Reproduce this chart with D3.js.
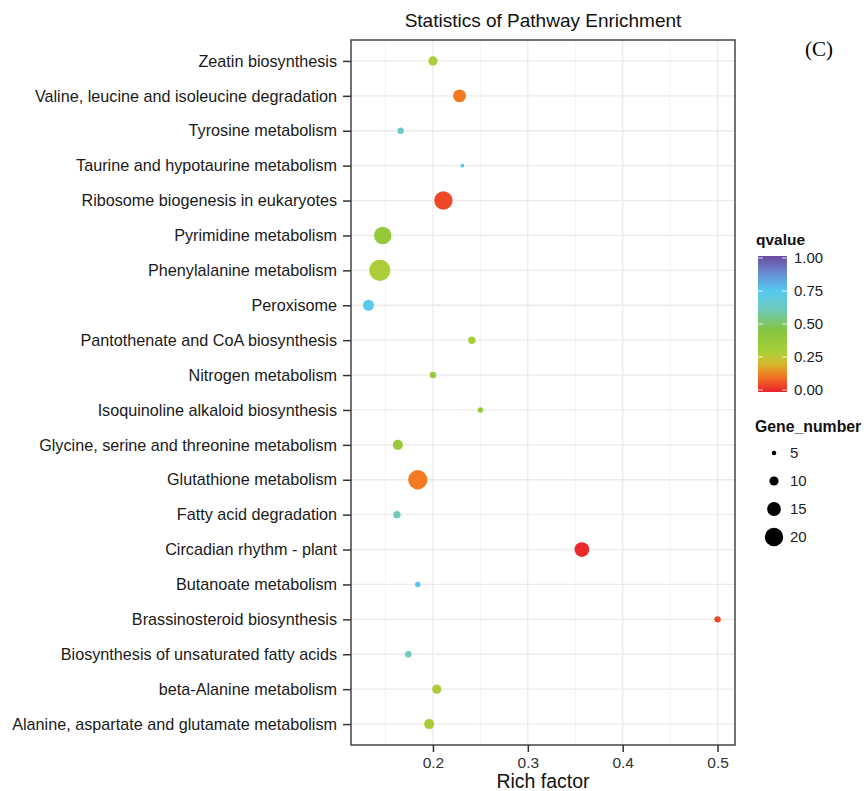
<!DOCTYPE html>
<html lang="en">
<head>
  <meta charset="UTF-8">
  <title>Statistics of Pathway Enrichment</title>
  <style>
    body { margin: 0; background: #fff; }
    svg text { font-family: 'Liberation Sans', Arial, sans-serif; }
  </style>
</head>
<body>
<div id="chart"></div>
<script src="https://cdn.jsdelivr.net/npm/d3@7"></script>
<script>
// 通路名称（从上到下）
let pathways = [
  'Zeatin biosynthesis',
  'Valine, leucine and isoleucine degradation',
  'Tyrosine metabolism',
  'Taurine and hypotaurine metabolism',
  'Ribosome biogenesis in eukaryotes',
  'Pyrimidine metabolism',
  'Phenylalanine metabolism',
  'Peroxisome',
  'Pantothenate and CoA biosynthesis',
  'Nitrogen metabolism',
  'Isoquinoline alkaloid biosynthesis',
  'Glycine, serine and threonine metabolism',
  'Glutathione metabolism',
  'Fatty acid degradation',
  'Circadian rhythm - plant',
  'Butanoate metabolism',
  'Brassinosteroid biosynthesis',
  'Biosynthesis of unsaturated fatty acids',
  'beta-Alanine metabolism',
  'Alanine, aspartate and glutamate metabolism'
]
let richFactor = [0.200, 0.228, 0.166, 0.231, 0.211, 0.147, 0.144, 0.132, 0.241, 0.200,
                  0.250, 0.163, 0.184, 0.162, 0.357, 0.184, 0.500, 0.174, 0.204, 0.196]
let qvalue = [0.29, 0.12, 0.62, 0.74, 0.05, 0.38, 0.29, 0.73, 0.29, 0.37,
              0.37, 0.37, 0.12, 0.61, 0.01, 0.74, 0.05, 0.61, 0.29, 0.29]
let geneNumber = [10, 14, 7, 4, 20, 19, 23, 12, 8, 7,
                  6, 11, 21, 8, 16, 6, 7, 7, 10, 11]
let xTicks = [0.2, 0.3, 0.4, 0.5]
let qTicks = [0, 0.25, 0.5, 0.75, 1]
let sizeTicks = [5, 10, 15, 20]

let width = 867
let height = 791
let margin = { left: 351, right: 735, top: 40, bottom: 745 }

let svg = d3.select('#chart').append('svg').attr('width', width).attr('height', height)

// x 比例尺，两端各扩展 5%
let ext = d3.extent(richFactor)
let pad = (ext[1] - ext[0]) * 0.05
let x = d3.scaleLinear().domain([ext[0] - pad, ext[1] + pad]).range([margin.left, margin.right])
let y = d3.scalePoint().domain(pathways).range([margin.top, margin.bottom]).padding(0.6)
let r = d3.scaleLinear().domain([5, 20]).range([2.3, 9.2])
let colorStops = [
  [0, '#e9212b'], [0.12, '#f27b22'], [0.22, '#cfc22f'], [0.3, '#a7cf38'],
  [0.45, '#86c440'], [0.62, '#6ccbc6'], [0.75, '#56c7f0'], [0.88, '#6b88cf'], [1, '#6a4a9f']
]
let color = d3.scaleLinear().domain(colorStops.map(d => d[0])).range(colorStops.map(d => d[1]))

// 网格线
let minor = d3.range(0.15, x.domain()[1], 0.1).filter(v => v > x.domain()[0])
svg.append('g').selectAll('line').data(minor).join('line')
  .attr('x1', d => x(d)).attr('x2', d => x(d))
  .attr('y1', margin.top).attr('y2', margin.bottom)
  .attr('stroke', '#f3f3f3').attr('stroke-width', 1)
svg.append('g').selectAll('line').data(xTicks).join('line')
  .attr('x1', d => x(d)).attr('x2', d => x(d))
  .attr('y1', margin.top).attr('y2', margin.bottom)
  .attr('stroke', '#ebebeb').attr('stroke-width', 1.3)
svg.append('g').selectAll('line').data(pathways).join('line')
  .attr('x1', margin.left).attr('x2', margin.right)
  .attr('y1', d => y(d)).attr('y2', d => y(d))
  .attr('stroke', '#ebebeb').attr('stroke-width', 1.3)

// 点
let points = pathways.map((p, i) => ({ name: p, rf: richFactor[i], q: qvalue[i], n: geneNumber[i] }))
svg.append('g').selectAll('circle').data(points).join('circle')
  .attr('cx', d => x(d.rf)).attr('cy', d => y(d.name))
  .attr('r', d => r(d.n))
  .attr('fill', d => color(d.q))

// 边框
svg.append('rect')
  .attr('x', margin.left).attr('y', margin.top)
  .attr('width', margin.right - margin.left).attr('height', margin.bottom - margin.top)
  .attr('fill', 'none').attr('stroke', '#444').attr('stroke-width', 1.5)

// 坐标轴
let yAxis = svg.append('g').attr('transform', 'translate(' + margin.left + ',0)')
  .call(d3.axisLeft(y).tickSize(8).tickPadding(6))
yAxis.select('.domain').remove()
yAxis.selectAll('line').attr('stroke', '#333').attr('stroke-width', 1.5)
yAxis.selectAll('text').attr('font-size', '16.2px').attr('fill', '#1a1a1a')
  .attr('font-family', "'Liberation Sans', Arial, sans-serif")

let xAxis = svg.append('g').attr('transform', 'translate(0,' + margin.bottom + ')')
  .call(d3.axisBottom(x).tickValues(xTicks).tickFormat(d3.format('.1f')).tickSize(7).tickPadding(5))
xAxis.select('.domain').remove()
xAxis.selectAll('line').attr('stroke', '#333').attr('stroke-width', 1.5)
xAxis.selectAll('text').attr('font-size', '15.5px').attr('fill', '#333')
  .attr('font-family', "'Liberation Sans', Arial, sans-serif")

// 标题
svg.append('text').text('Statistics of Pathway Enrichment')
  .attr('x', (margin.left + margin.right) / 2).attr('y', 27)
  .attr('text-anchor', 'middle').attr('font-size', '19px').attr('fill', '#111')
svg.append('text').text('Rich factor')
  .attr('x', (margin.left + margin.right) / 2).attr('y', 788)
  .attr('text-anchor', 'middle').attr('font-size', '19.5px').attr('fill', '#111')
svg.append('text').text('(C)')
  .attr('x', 819).attr('y', 56).attr('text-anchor', 'middle')
  .attr('font-size', '21px').attr('fill', '#000')
  .style('font-family', "'Liberation Serif', 'Times New Roman', serif")

// qvalue 颜色条
let barX = 758, barW = 29, barTop = 256, barBot = 392
let grad = svg.append('defs').append('linearGradient').attr('id', 'qgrad')
  .attr('x1', 0).attr('y1', 1).attr('x2', 0).attr('y2', 0)
d3.range(0, 1.0001, 0.05).forEach(t => {
  grad.append('stop').attr('offset', t).attr('stop-color', color(t))
})
svg.append('text').text('qvalue').attr('x', 756).attr('y', 245)
  .attr('font-size', '15.5px').attr('font-weight', 'bold').attr('fill', '#111')
svg.append('rect').attr('x', barX).attr('y', barTop).attr('width', barW).attr('height', barBot - barTop)
  .attr('fill', 'url(#qgrad)')
let qScale = d3.scaleLinear().domain([0, 1]).range([barBot - 2, barTop + 2])
let qg = svg.append('g')
qg.selectAll('line.l').data(qTicks).join('line').attr('class', 'l')
  .attr('x1', barX).attr('x2', barX + 5).attr('y1', d => qScale(d)).attr('y2', d => qScale(d))
  .attr('stroke', '#fff').attr('stroke-opacity', 0.8)
qg.selectAll('line.r').data(qTicks).join('line').attr('class', 'r')
  .attr('x1', barX + barW - 5).attr('x2', barX + barW).attr('y1', d => qScale(d)).attr('y2', d => qScale(d))
  .attr('stroke', '#fff').attr('stroke-opacity', 0.8)
qg.selectAll('text').data(qTicks).join('text')
  .attr('x', 794).attr('y', d => qScale(d)).attr('dy', '0.35em')
  .attr('font-size', '15px').attr('fill', '#222')
  .text(d => d3.format('.2f')(d))

// Gene_number 图例
svg.append('text').text('Gene_number').attr('x', 755).attr('y', 432)
  .attr('font-size', '15.8px').attr('font-weight', 'bold').attr('fill', '#111')
let sy = d3.scalePoint().domain(sizeTicks).range([453, 537])
let lg = svg.append('g').selectAll('g').data(sizeTicks).join('g')
  .attr('transform', d => 'translate(774,' + sy(d) + ')')
lg.append('circle').attr('r', d => r(d)).attr('fill', '#000')
lg.append('text').attr('x', 16).attr('dy', '0.35em')
  .attr('font-size', '15px').attr('fill', '#222').text(d => d)
</script>
</body>
</html>
